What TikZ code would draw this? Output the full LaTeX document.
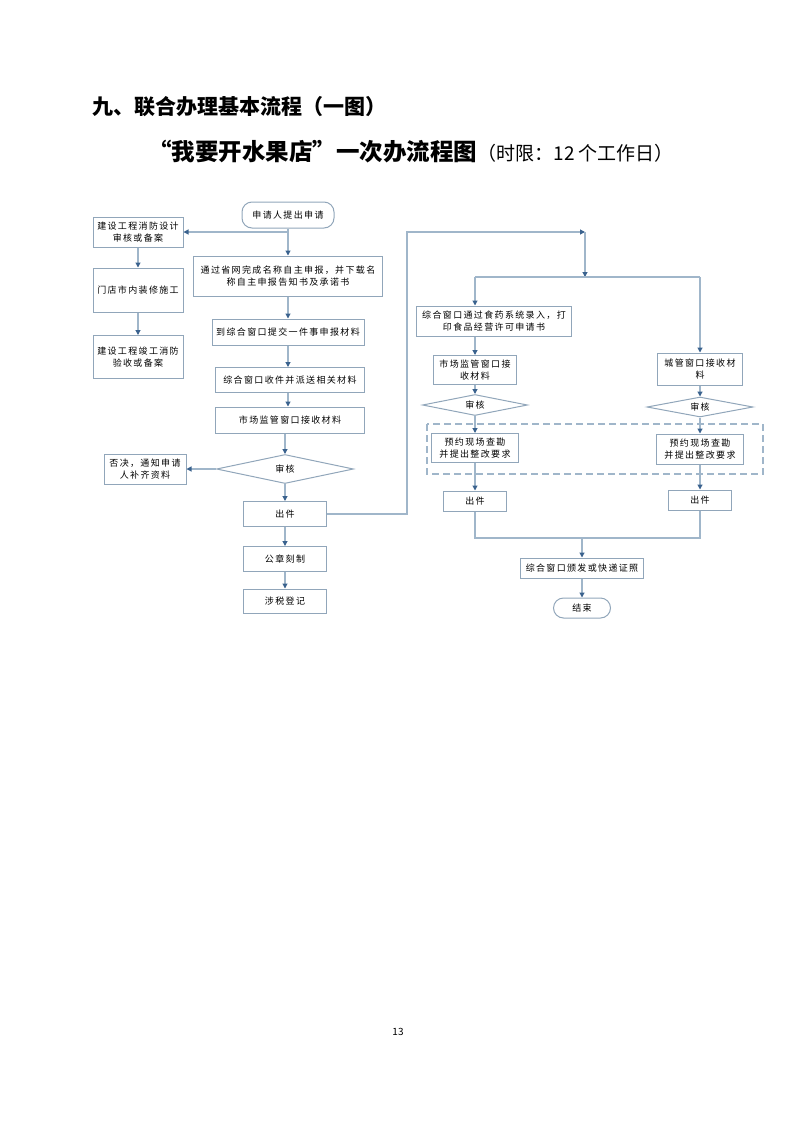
\documentclass[tikz,border=0pt]{standalone}
\usepackage{fontspec}
\setmainfont{Noto Sans CJK SC}
\newfontfamily\boxfont[LetterSpace=15]{Noto Sans CJK SC}
\usetikzlibrary{arrows.meta,shapes.geometric}
\definecolor{linec}{RGB}{160,182,202}
\definecolor{boxc}{RGB}{145,166,186}
\definecolor{tipc}{RGB}{58,98,142}

\begin{document}
\begin{tikzpicture}[x=1pt,y=-1pt,
    every node/.style={inner sep=0pt, align=center, font={\boxfont\fontsize{9}{12.5}\selectfont}},
    box/.style={draw=boxc, line width=1pt, fill=white},
    term/.style={box, rounded corners=10pt},
    check/.style={draw=boxc, line width=1pt, fill=white, shape=diamond, aspect=5},
    line/.style={draw=linec, line width=1.1pt},
    arr/.style={line, -{Triangle[length=5pt,width=5pt,color=tipc]}}]
    \useasboundingbox (0,0) rectangle (793,1122);
    % headings
    \node [anchor=west, font={\bfseries\fontsize{21}{25}\selectfont}] (title) at (92,107) {九、联合办理基本流程（一图）};
    \node [anchor=west, font={\bfseries\fontsize{23.5}{28}\selectfont}] (subject) at (148,152) {“我要开水果店”一次办流程图};
    \node [anchor=base west, font={\fontsize{19}{23}\selectfont}] (limit) at (subject.base east) {（时限：12 个工作日）};
    % left column
    \node [term, minimum width=92, minimum height=26] (start) at (288,215) {申请人提出申请};
    \node [box, minimum width=90, minimum height=30] (fire1) at (138,232) {建设工程消防设计\\审核或备案};
    \node [box, minimum width=90, minimum height=44] (decor) at (138,290) {门店市内装修施工};
    \node [box, minimum width=90, minimum height=43] (fire2) at (138,357) {建设工程竣工消防\\验收或备案};
    \node [box, minimum width=189, minimum height=40] (name) at (288,276) {通过省网完成名称自主申报，并下载名\\称自主申报告知书及承诺书};
    \node [box, minimum width=152, minimum height=26] (submit) at (288,332) {到综合窗口提交一件事申报材料};
    \node [box, minimum width=149, minimum height=25] (dispatch) at (290,380) {综合窗口收件并派送相关材料};
    \node [box, minimum width=149, minimum height=26] (receive) at (290,420) {市场监管窗口接收材料};
    \node [check, minimum width=137, minimum height=29] (check) at (285,469) {审核};
    \node [box, minimum width=82, minimum height=30] (reject) at (145,469) {否决，通知申请\\人补齐资料};
    \node [box, minimum width=83, minimum height=25] (issue) at (285,514) {出件};
    \node [box, minimum width=83, minimum height=25] (seal) at (285,559) {公章刻制};
    \node [box, minimum width=83, minimum height=24] (tax) at (285,601) {涉税登记};
    % right part
    \draw [linec, line width=1.1pt, dash pattern=on 7pt off 4pt] (427,424) rectangle (763,474);
    \node [box, minimum width=155, minimum height=30] (food) at (494,321) {综合窗口通过食药系统录入，打\\印食品经营许可申请书};
    \node [box, minimum width=83, minimum height=29] (mkt) at (475,370) {市场监管窗口接\\收材料};
    \node [box, minimum width=85, minimum height=32] (city) at (700,369) {城管窗口接收材\\料};
    \node [check, minimum width=105, minimum height=21] (chkL) at (475,405) {审核};
    \node [check, minimum width=106, minimum height=20] (chkR) at (700,407) {审核};
    \node [box, minimum width=87, minimum height=29] (siteL) at (475,448) {预约现场查勘\\并提出整改要求};
    \node [box, minimum width=87, minimum height=30] (siteR) at (700,449) {预约现场查勘\\并提出整改要求};
    \node [box, minimum width=63, minimum height=20] (issL) at (475,501) {出件};
    \node [box, minimum width=63, minimum height=20] (issR) at (700,500) {出件};
    \node [box, minimum width=123, minimum height=20] (cert) at (582,568) {综合窗口颁发或快递证照};
    \node [term, minimum width=57, minimum height=20] (finish) at (582,608) {结束};
    \coordinate (turn) at (407,232);
    \coordinate (split) at (585,232);
    \coordinate (fork) at (585,277);
    \coordinate (merge) at (582,538);
    % connectors
    \draw [arr] (start) -- (name);
    \draw [arr] (start.south |- fire1.east) -- (fire1.east);
    \draw [arr] (fire1) -- (decor);
    \draw [arr] (decor) -- (fire2);
    \draw [arr] (name.south) -- (name.south |- submit.north);
    \draw [arr] (submit.south) -- (submit.south |- dispatch.north);
    \draw [arr] (dispatch.south -| submit.south) -- (submit.south |- receive.north);
    \draw [arr] (receive.south -| check.north) -- (check.north);
    \draw [arr] (check) -- (reject);
    \draw [arr] (check) -- (issue);
    \draw [arr] (issue) -- (seal);
    \draw [arr] (seal) -- (tax);
    \draw [arr] (issue.east) -- (issue.east -| turn) -- (turn) -- (split);
    \draw [arr] (split) -- (fork);
    \draw [line] (fork -| mkt.north) -- (fork -| city.north);
    \draw [arr] (fork -| mkt.north) -- (mkt.north |- food.north);
    \draw [arr] (fork -| city.north) -- (city.north);
    \draw [arr] (food.south -| mkt.north) -- (mkt.north);
    \draw [arr] (mkt) -- (chkL);
    \draw [arr] (chkL) -- (siteL);
    \draw [arr] (siteL) -- (issL);
    \draw [arr] (city) -- (chkR);
    \draw [arr] (chkR) -- (siteR);
    \draw [arr] (siteR) -- (issR);
    \draw [line] (issL.south) |- (merge) -| (issR.south);
    \draw [arr] (merge) -- (cert);
    \draw [arr] (cert) -- (finish);
    % page number
    \node [font={\fontsize{10}{12}\selectfont}] (page) at (398,1032) {13};
\end{tikzpicture}
\end{document}
